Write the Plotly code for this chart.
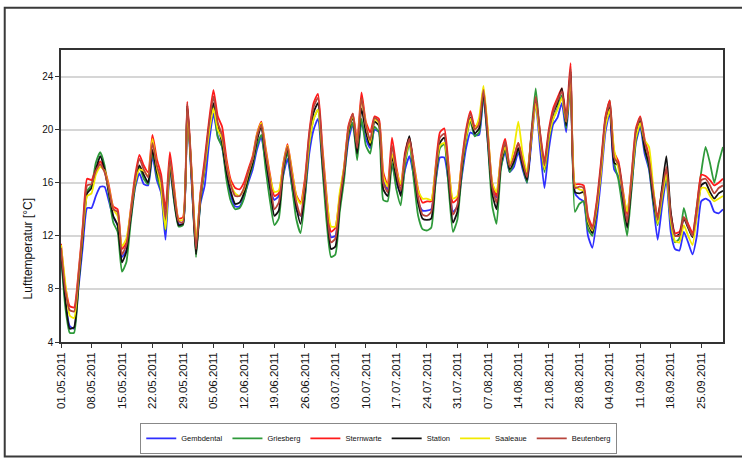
import pandas as pd
import plotly.graph_objects as go

# ── Data: daily mean air temperature, 01.05.2011 – 30.09.2011 ──────────
dates = pd.date_range("2011-05-01", "2011-09-30", freq="D").strftime("%d.%m.%Y").tolist()

gembdental = [
    10.6, 7.0, 5.2, 5.0, 8.0, 11.2, 14.1,
    14.1, 15.0, 15.7, 15.7, 14.6, 13.4, 12.8,
    10.4, 10.9, 13.2, 15.6, 16.7, 15.9, 15.8,
    18.0, 16.2, 15.2, 11.7, 17.0, 14.6, 12.9,
    12.9, 21.5, 16.0, 10.8, 14.4, 15.8, 19.0,
    21.2, 19.5, 18.7, 16.5, 15.0, 14.2, 14.2,
    14.9, 16.0, 17.0, 18.5, 19.4, 17.5, 15.6,
    14.7, 15.0, 16.5, 17.8, 15.8, 14.0, 13.5,
    15.0, 18.2, 20.0, 20.8, 17.4, 13.8, 11.9,
    12.0, 14.6, 16.5, 19.2, 20.4, 18.3, 20.5,
    19.3, 18.6, 20.0, 19.8, 16.2, 15.5, 17.3,
    16.0, 15.2, 17.0, 18.0, 16.5, 14.5, 13.9,
    13.9, 14.0, 16.0, 17.9, 17.9, 16.0, 13.8,
    14.2, 16.4, 18.6, 19.8, 19.6, 19.6, 22.5,
    19.0, 15.4, 14.9, 17.2, 18.3, 16.8, 17.2,
    18.3, 17.0, 16.0, 19.0, 22.0, 18.6, 15.6,
    18.5, 20.4, 20.9, 22.0, 19.8, 23.6, 15.2,
    14.8, 14.6, 12.0, 11.1, 13.2, 16.3, 19.8,
    21.3, 17.0, 16.5, 14.5, 13.0, 15.6, 19.0,
    20.2, 18.2, 17.0, 14.3, 11.7, 14.2, 16.3,
    12.3, 11.0, 10.9, 12.3, 11.5, 10.6, 12.0,
    14.6, 14.8, 14.6, 13.8, 13.7, 14.0,
]

griesberg = [
    10.5, 6.6, 4.7, 4.7, 8.2, 12.1, 15.4,
    15.8, 17.5, 18.3, 17.3, 15.0, 13.0, 12.3,
    9.3, 10.0, 13.0, 15.7, 17.2, 16.3, 15.9,
    18.3, 16.5, 15.4, 12.4, 17.2, 14.5, 12.7,
    12.8, 21.6, 16.2, 10.4, 14.6, 17.0, 19.8,
    21.8, 19.4, 18.7, 16.2, 14.6, 14.0, 14.1,
    14.8, 16.2, 17.3, 18.8, 19.6, 17.0, 14.6,
    12.8, 13.3, 16.6, 18.3, 15.8, 13.3, 12.2,
    14.8, 18.8, 20.8, 21.5, 17.2, 13.0, 10.4,
    10.6, 13.8, 16.2, 19.6, 20.5, 17.7, 20.8,
    18.8, 18.2, 20.2, 19.8, 14.7, 14.6, 17.5,
    15.5, 14.3, 17.4, 19.0, 16.2, 13.5, 12.5,
    12.4, 12.6, 16.0, 18.6, 18.9, 15.6, 12.3,
    13.2, 16.6, 19.2, 20.6, 19.5, 19.8, 22.6,
    19.0, 14.3, 12.9, 17.0, 18.6, 16.8, 17.5,
    18.6, 17.2, 16.0, 19.8, 23.1, 19.5, 16.8,
    19.2, 20.8, 21.6, 22.6, 20.1, 24.0, 13.8,
    14.4, 14.6, 12.5, 12.0, 14.0, 17.2, 20.8,
    22.2, 17.5, 16.2, 14.0, 12.0, 15.5, 19.2,
    20.5, 18.5, 17.2, 14.5, 12.8, 14.8, 16.5,
    13.0, 11.5, 11.8, 14.1, 12.8, 12.0, 14.3,
    16.8, 18.7, 17.5, 16.0, 17.5, 18.7,
]

sternwarte = [
    11.4, 8.2, 6.7, 6.6, 9.2, 12.8, 16.3,
    16.2, 17.0, 17.6, 17.0, 15.8, 14.2, 14.0,
    11.0, 11.5, 14.0, 16.5, 18.1, 17.3, 16.8,
    19.6, 17.8, 16.6, 14.0, 18.3, 15.6, 13.3,
    13.4, 22.1, 16.9, 11.2, 15.2, 17.8, 20.7,
    23.0, 21.0, 20.2, 17.8, 16.2, 15.6, 15.5,
    16.0, 17.0, 18.0, 19.7, 20.6, 18.6, 16.6,
    15.0, 15.2, 17.4, 18.9, 17.0, 15.1, 14.5,
    16.3, 19.8, 22.0, 22.7, 18.8, 15.0, 12.3,
    12.6, 15.0, 17.2, 20.3, 21.2, 19.2, 22.8,
    20.6, 19.8, 21.0, 20.8, 16.8, 15.8, 19.4,
    17.2, 15.8, 18.3, 19.4, 17.5, 15.5, 14.5,
    14.6, 14.6, 17.2, 19.8, 20.1, 17.3, 14.5,
    14.8, 17.6, 20.0, 21.4, 20.2, 20.6, 23.1,
    19.8, 16.0, 15.0, 18.0, 19.3, 17.4, 18.0,
    19.0, 17.8, 16.5, 19.6, 22.4, 19.8, 17.6,
    20.0, 21.6, 22.4, 23.1, 21.0, 25.0, 15.9,
    15.9, 15.8, 13.5, 12.7, 14.6, 17.6, 21.0,
    22.2, 18.3, 17.6, 15.5, 13.6, 16.6, 20.1,
    21.0, 19.3, 18.0, 15.4, 13.4, 15.5, 17.0,
    13.7, 12.2, 12.3, 13.4, 12.9, 12.2, 14.2,
    16.6, 16.5, 16.2, 15.8, 16.0, 16.3,
]

station = [
    10.8, 7.2, 5.0, 5.1, 8.4, 12.0, 15.2,
    15.6, 17.0, 18.0, 17.0, 15.3, 13.5, 12.8,
    10.0, 10.8, 13.4, 16.0, 17.3, 16.6, 16.0,
    18.5, 16.8, 15.8, 13.0, 17.4, 14.8, 12.8,
    12.9, 21.8, 16.5, 10.6, 14.8, 17.2, 20.2,
    22.0, 20.3, 19.0, 16.8, 15.3, 14.4, 14.5,
    15.2, 16.4, 17.5, 19.2, 20.2, 17.8, 15.6,
    13.5, 13.9, 16.9, 18.6, 16.3, 14.2, 12.9,
    15.4, 19.2, 21.3, 22.0, 17.8, 14.0, 11.0,
    11.2, 14.3, 16.8, 19.8, 21.0, 18.2, 21.6,
    19.8, 18.8, 20.6, 20.3, 15.5, 15.0, 18.0,
    16.3, 15.0, 18.0, 19.5, 17.0, 14.5, 13.3,
    13.2, 13.3, 16.5, 19.0, 19.4, 16.3, 13.0,
    13.8, 17.0, 19.5, 20.9, 19.7, 20.1, 22.8,
    19.4, 15.2, 14.0, 17.4, 18.8, 17.0, 17.6,
    18.6, 17.3, 16.2, 19.4, 22.3, 19.4, 17.0,
    19.6, 21.2, 22.0, 23.1, 20.3, 24.4, 15.3,
    15.2, 15.3, 13.0, 12.2, 14.0, 17.0, 20.5,
    21.8, 17.5, 17.3, 14.8, 12.6, 16.0, 19.5,
    20.7, 18.6, 17.4, 14.8, 13.1, 15.6, 18.0,
    13.8, 12.0, 12.1, 13.3, 12.6, 11.9, 13.6,
    15.8, 16.0, 15.3, 14.8, 15.2, 15.4,
]

saaleaue = [
    11.3, 8.4, 6.0, 5.8, 8.8, 12.3, 15.0,
    15.2, 16.6, 17.2, 16.9, 15.6, 14.0, 13.5,
    11.2, 11.8, 13.8, 16.0, 17.0, 16.9, 16.5,
    19.3, 17.2, 15.6, 12.5, 17.6, 15.3, 13.2,
    13.2, 21.4, 16.8, 11.5, 15.0, 17.2, 19.8,
    21.6, 20.0, 19.3, 17.4, 15.9, 15.2, 15.0,
    15.5, 16.7, 17.8, 19.6, 20.5, 18.4, 16.4,
    15.3, 15.4, 17.3, 18.8, 16.9, 15.0, 14.4,
    15.9, 19.0, 20.8, 21.5, 18.4, 14.8, 12.7,
    12.7, 15.3, 17.2, 20.0, 21.1, 18.8, 22.3,
    20.4, 19.0, 20.8, 20.5, 16.5, 15.7, 18.2,
    16.9, 15.9, 17.8, 19.0, 17.3, 15.4, 14.8,
    14.8, 14.7, 17.0, 18.8, 19.0, 17.0, 14.8,
    15.0, 17.4, 19.4, 20.8, 20.0, 20.9, 23.3,
    20.0, 16.0, 15.3, 17.8, 18.7, 17.3, 18.6,
    20.6, 18.2, 16.8, 19.3, 22.0, 19.3, 17.0,
    19.4, 20.8, 21.5, 22.4, 20.6, 23.8, 15.8,
    15.5, 15.4, 13.1, 12.4, 14.1, 16.8, 20.2,
    21.5, 18.5, 17.0, 15.3, 13.8, 16.2, 19.4,
    20.5, 19.2, 18.7, 15.6, 12.9, 15.0, 16.6,
    13.2, 11.6, 11.5, 12.8, 12.0, 11.3, 13.5,
    15.6, 15.6, 15.0, 14.6, 14.8, 15.0,
]

beutenberg = [
    11.1, 7.9, 6.4, 6.3, 8.9, 12.5, 15.8,
    15.9, 16.9, 17.4, 16.8, 15.5, 14.0, 13.8,
    10.6, 11.3, 13.7, 16.2, 17.8, 17.0, 16.4,
    19.0, 17.3, 16.2, 13.3, 17.8, 15.2, 13.1,
    13.0, 22.0, 16.6, 11.0, 15.0, 17.5, 20.4,
    22.5, 20.5, 19.6, 17.3, 15.8, 15.0, 15.0,
    15.6, 16.8, 17.8, 19.5, 20.4, 18.2, 16.2,
    14.0, 14.5, 17.1, 18.7, 16.6, 14.6, 13.5,
    15.9, 19.6, 21.7, 22.4, 18.3, 14.3, 11.5,
    11.8, 14.7, 17.0, 20.1, 21.2, 18.6, 22.4,
    20.3, 19.2, 20.9, 20.6, 16.0, 15.3, 18.8,
    16.8, 15.4, 18.0, 19.3, 17.2, 14.9, 13.6,
    13.5, 13.8, 16.8, 19.4, 19.7, 16.8, 13.6,
    14.3, 17.3, 19.8, 21.2, 20.0, 20.4, 23.0,
    19.6, 15.7, 14.5, 17.7, 19.1, 17.2, 17.9,
    19.0, 17.6, 16.4, 19.6, 22.5, 19.7, 17.3,
    19.8, 21.3, 22.2, 22.9, 20.6, 24.6, 15.6,
    15.7, 15.6, 13.3, 12.5, 14.4, 17.3, 20.8,
    22.0, 17.9, 17.4, 15.2, 13.0, 16.4, 19.9,
    20.9, 19.1, 17.8, 15.2, 13.2, 15.3, 17.2,
    13.5, 12.0, 12.0, 13.4, 12.7, 12.0, 13.9,
    16.2, 16.3, 15.8, 15.2, 15.6, 15.8,
]

y_ticks = [4, 8, 12, 16, 20, 24]
x_ticks = dates[::7]

# ── Styling ─────────────────────────────────────────────────────────────
_SERIES = [
    ("Gembdental", gembdental, "#2f2fff"),
    ("Griesberg", griesberg, "#2e9a3a"),
    ("Sternwarte", sternwarte, "#ff1a1a"),
    ("Station", station, "#111111"),
    ("Saaleaue", saaleaue, "#f2ea00"),
    ("Beutenberg", beutenberg, "#b8453c"),
]
_AXIS = "#333333"
_FONT = "Liberation Sans, Arial, sans-serif"

fig = go.Figure()
for name, values, colour in _SERIES:
    fig.add_trace(
        go.Scatter(
            x=dates,
            y=values,
            mode="lines",
            name=name,
            line=dict(color=colour, width=1.8, shape="spline", smoothing=0.5),
        )
    )

# outer frame of the chart object
fig.add_shape(
    type="rect", xref="paper", yref="paper",
    x0=-0.085, x1=1.04, y0=-0.392, y1=1.145,
    line=dict(color="#3a3a3a", width=2), fillcolor="rgba(0,0,0,0)",
    layer="below",
)

fig.add_annotation(
    text="Lufttemperatur [°C]", textangle=-90,
    xref="paper", yref="paper", x=-0.05, y=0.32,
    xanchor="center", yanchor="middle",
    showarrow=False, font=dict(family=_FONT, size=12, color="#111"),
)

fig.update_layout(
    width=742,
    height=466,
    margin=dict(l=61, r=19, t=50, b=119),
    paper_bgcolor="white",
    plot_bgcolor="white",
    font=dict(family=_FONT, size=10, color="#111"),
    legend=dict(
        orientation="h",
        x=0.48, y=-0.33, xanchor="center", yanchor="middle",
        bordercolor="#888888", borderwidth=1, bgcolor="white",
        font=dict(family=_FONT, size=7.5, color="#111"),
        tracegroupgap=0,
    ),
)
fig.update_xaxes(
    type="category",
    range=[0, len(dates) - 1],
    tickmode="array",
    tickvals=x_ticks,
    ticktext=x_ticks,
    tickangle=-90,
    ticks="outside",
    ticklen=4,
    tickcolor=_AXIS,
    showline=True,
    linecolor=_AXIS,
    linewidth=1.5,
    mirror=True,
    showgrid=False,
    tickfont=dict(family=_FONT, size=11.5, color="#111"),
)
fig.update_yaxes(
    range=[4, 26],
    tickvals=y_ticks,
    ticks="outside",
    ticklen=4,
    tickcolor=_AXIS,
    showline=True,
    linecolor=_AXIS,
    linewidth=1.5,
    mirror=True,
    showgrid=True,
    gridcolor="#d6d6d6",
    gridwidth=1.5,
    zeroline=False,
    tickfont=dict(family=_FONT, size=10, color="#111"),
)

# the page body has a default 8px margin; remove it so the figure sits at 0,0
fig.write_html(
    "out.html",
    config={"displayModeBar": False},
    post_script="document.body.style.margin='0px';",
)
